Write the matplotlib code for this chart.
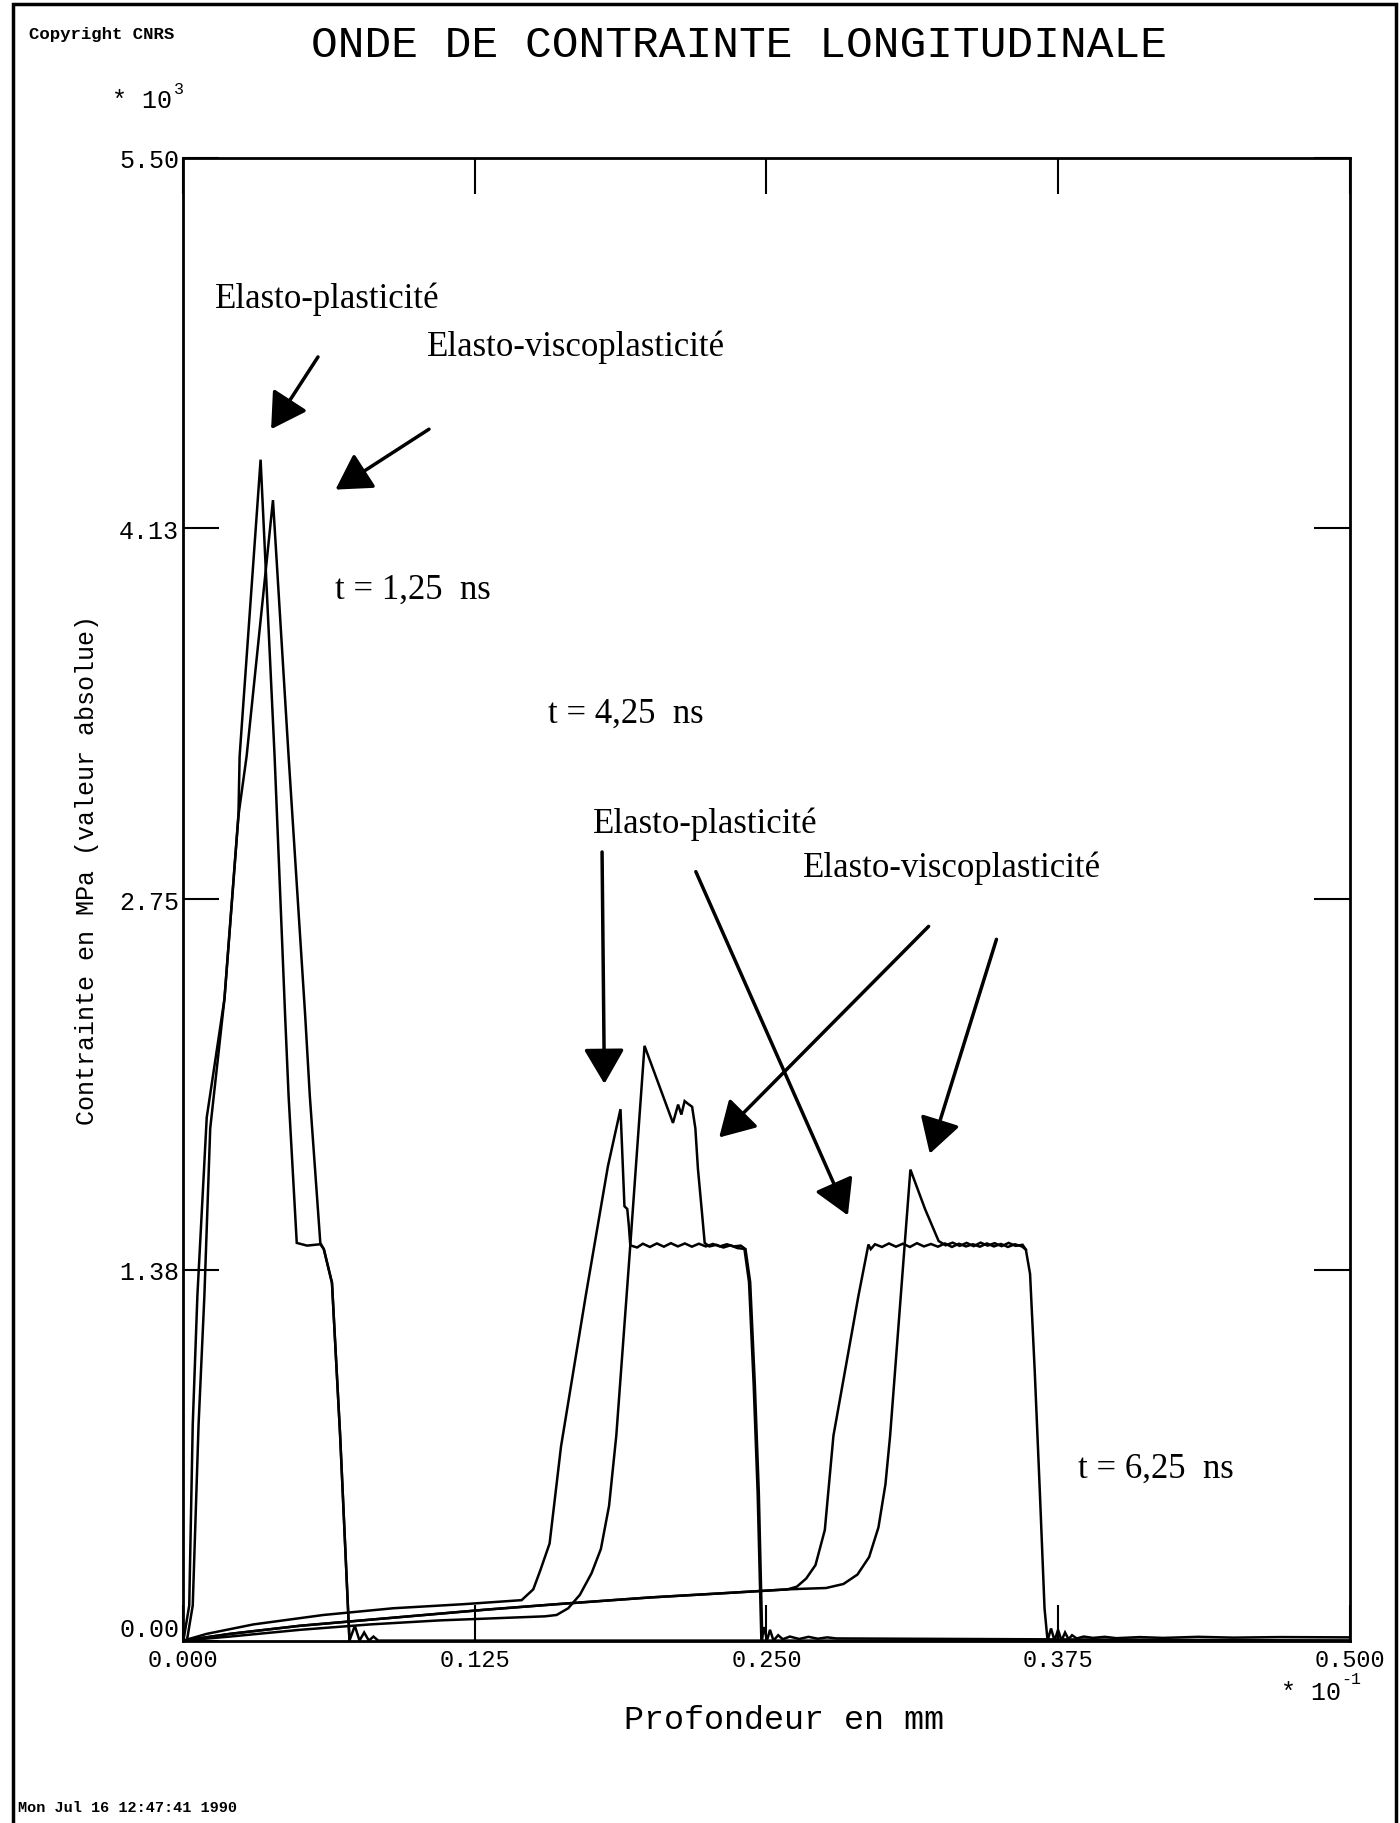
import matplotlib
matplotlib.use('Agg')
import matplotlib.pyplot as plt
from matplotlib.patches import Rectangle

# profondeur (x 10^-1 mm) / contrainte (x 10^3 MPa)

# t = 1,25 ns
ep1_x = [0.0, 0.0025, 0.004, 0.006, 0.010, 0.0176, 0.0236, 0.0241, 0.0331, 0.0391, 0.0436, 0.0451,
         0.0486, 0.0530, 0.0587, 0.0602, 0.0637, 0.0672, 0.0712, 0.0735, 0.0755, 0.0775, 0.0795,
         0.0815, 0.0835, 0.5]
ep1_y = [0.0, 0.13, 0.80, 1.28, 1.94, 2.38, 3.06, 3.28, 4.38, 3.28, 2.32, 2.02,
         1.475, 1.465, 1.470, 1.452, 1.327, 0.76, 0.0, 0.055, 0.0, 0.03, 0.0,
         0.015, 0.0, 0.0]
evp1_x = [0.0015, 0.004, 0.0065, 0.009, 0.0115, 0.0176, 0.0236, 0.0271, 0.0384, 0.0451, 0.0522,
          0.0542, 0.0587, 0.0602, 0.0637, 0.0672, 0.0712]
evp1_y = [0.0, 0.13, 0.80, 1.28, 1.90, 2.38, 3.06, 3.28, 4.23, 3.28, 2.32,
          2.02, 1.475, 1.452, 1.327, 0.76, 0.0]

# t = 4,25 ns
ep4_x = [0.0, 0.01, 0.03, 0.06, 0.09, 0.12, 0.145, 0.150, 0.153, 0.157, 0.1619, 0.1725, 0.182,
         0.1874, 0.1891, 0.1903, 0.191, 0.1916, 0.1945, 0.197, 0.200, 0.203, 0.206, 0.209, 0.212,
         0.215, 0.218, 0.221, 0.224, 0.227, 0.230, 0.233, 0.236, 0.239, 0.2405, 0.2425, 0.2445,
         0.2462, 0.2478, 0.249, 0.2502, 0.2515, 0.253, 0.255, 0.257, 0.260, 0.264, 0.268, 0.272,
         0.276, 0.280, 0.5]
ep4_y = [0.0, 0.025, 0.06, 0.095, 0.12, 0.135, 0.15, 0.19, 0.26, 0.36, 0.72, 1.279, 1.759,
         1.971, 1.611, 1.601, 1.537, 1.466, 1.458, 1.472, 1.460, 1.473, 1.461, 1.474, 1.462,
         1.473, 1.461, 1.472, 1.462, 1.471, 1.462, 1.470, 1.462, 1.465, 1.455, 1.33, 0.95,
         0.55, 0.0, 0.05, 0.0, 0.04, 0.0, 0.02, 0.005, 0.015, 0.006, 0.014, 0.007,
         0.012, 0.008, 0.0]
evp4_x = [0.0, 0.02, 0.05, 0.08, 0.11, 0.14, 0.155, 0.160, 0.165, 0.170, 0.175, 0.179, 0.1825,
          0.1856, 0.1916, 0.1977, 0.2099, 0.2121, 0.2135, 0.2149, 0.2165, 0.2181, 0.2195, 0.2206,
          0.2222, 0.2235, 0.2255, 0.2285, 0.2315, 0.2345, 0.2375, 0.2410, 0.243, 0.245, 0.2467,
          0.2482]
evp4_y = [0.0, 0.015, 0.04, 0.06, 0.075, 0.085, 0.09, 0.095, 0.12, 0.17, 0.25, 0.34, 0.50,
          0.76, 1.466, 2.206, 1.92, 1.988, 1.951, 2.001, 1.99, 1.98, 1.90, 1.75,
          1.60, 1.475, 1.462, 1.468, 1.458, 1.466, 1.456, 1.452, 1.33, 0.95, 0.55,
          0.0]

# t = 6,25 ns
ep6_x = [0.0, 0.02, 0.05, 0.09, 0.13, 0.16, 0.20, 0.23, 0.259, 0.263, 0.267, 0.271, 0.275, 0.2787,
         0.2894, 0.2937, 0.2947, 0.2965, 0.2995, 0.3025, 0.3055, 0.3085, 0.3115, 0.3145, 0.3175,
         0.3205, 0.3235, 0.3265, 0.3295, 0.3325, 0.3355, 0.3385, 0.3415, 0.3445, 0.3475, 0.3505,
         0.3535, 0.3565, 0.3595, 0.3612, 0.3630, 0.3650, 0.3672, 0.3692, 0.3705, 0.372, 0.3735,
         0.375, 0.3765, 0.378, 0.3795, 0.381, 0.383, 0.386, 0.390, 0.395, 0.400, 0.410, 0.420,
         0.435, 0.450, 0.470, 0.500]
ep6_y = [0.0, 0.025, 0.055, 0.085, 0.115, 0.135, 0.16, 0.175, 0.19, 0.20, 0.23, 0.28, 0.41, 0.76,
         1.278, 1.469, 1.452, 1.470, 1.460, 1.473, 1.461, 1.472, 1.460, 1.474, 1.462,
         1.471, 1.461, 1.473, 1.460, 1.472, 1.462, 1.470, 1.461, 1.473, 1.462, 1.471,
         1.460, 1.470, 1.462, 1.45, 1.36, 1.0, 0.55, 0.12, 0.0, 0.045, 0.0,
         0.04, 0.0, 0.03, 0.005, 0.02, 0.008, 0.015, 0.01, 0.014, 0.009, 0.013, 0.010,
         0.014, 0.011, 0.013, 0.012]
evp6_x = [0.0, 0.02, 0.05, 0.09, 0.13, 0.16, 0.20, 0.23, 0.259, 0.265, 0.2755, 0.283, 0.289,
          0.294, 0.298, 0.301, 0.303, 0.3117, 0.318, 0.3238, 0.3268, 0.3298, 0.3328, 0.3358,
          0.3388, 0.3418, 0.3448, 0.3478, 0.3508, 0.3538, 0.3568, 0.3598, 0.3612]
evp6_y = [0.0, 0.025, 0.055, 0.085, 0.115, 0.135, 0.16, 0.175, 0.19, 0.192, 0.195, 0.21, 0.245,
          0.31, 0.42, 0.58, 0.76, 1.747, 1.60, 1.482, 1.466, 1.476, 1.464, 1.475,
          1.463, 1.476, 1.465, 1.474, 1.463, 1.475, 1.464, 1.468, 1.45]

x_ticks = [0.0, 0.125, 0.25, 0.375, 0.5]
x_ticklabels = ['0.000', '0.125', '0.250', '0.375', '0.500']
y_ticks = [0.0, 1.375, 2.75, 4.125, 5.5]
y_ticklabels = ['0.00', '1.38', '2.75', '4.13', '5.50']

# textes (position x, y, texte)
notes = [(0.0135, 4.98, 'Elasto-plasticité'),
         (0.1043, 4.80, 'Elasto-viscoplasticité'),
         (0.0652, 3.90, 't = 1,25  ns'),
         (0.1565, 3.44, 't = 4,25  ns'),
         (0.1755, 3.03, 'Elasto-plasticité'),
         (0.2658, 2.87, 'Elasto-viscoplasticité'),
         (0.3837, 0.64, 't = 6,25  ns')]
# fleches (queue, pointe)
arrows = [((0.0577, 4.761), (0.0376, 4.493)),
          ((0.1053, 4.493), (0.0652, 4.269)),
          ((0.1795, 2.925), (0.1805, 2.065)),
          ((0.2197, 2.852), (0.2849, 1.577)),
          ((0.3195, 2.649), (0.2297, 1.866)),
          ((0.3486, 2.601), (0.3200, 1.806))]

mono = 'Liberation Mono'
serif = 'Liberation Serif'

fig = plt.figure(figsize=(14, 18.24), dpi=100)
ax = fig.add_axes([0.131, 0.100, 0.833, 0.813])

for xs, ys in [(ep1_x, ep1_y), (evp1_x, evp1_y), (ep4_x, ep4_y), (evp4_x, evp4_y),
               (ep6_x, ep6_y), (evp6_x, evp6_y)]:
    ax.plot(xs, ys, color='black', lw=1.8, solid_joinstyle='miter')

ax.set_xlim(0, 0.5)
ax.set_ylim(0, 5.5)
ax.set_xticks(x_ticks)
ax.set_xticklabels(x_ticklabels, fontfamily=mono, fontsize=17)
ax.set_yticks(y_ticks)
ax.set_yticklabels(y_ticklabels, fontfamily=mono, fontsize=18)
ax.tick_params(direction='in', length=26, width=1.5, top=True, right=True, pad=3)
ax.tick_params(axis='x', pad=5)
ax.get_yticklabels()[0].set_va('bottom')
for s in ax.spines.values():
    s.set_linewidth(2)

for x, y, txt in notes:
    ax.text(x, y, txt, fontfamily=serif, fontsize=25, va='center', ha='left')
for tail, head in arrows:
    ax.annotate('', xy=head, xytext=tail,
                arrowprops=dict(arrowstyle='-|>,head_length=1.2,head_width=0.7', lw=2.5,
                                color='black', mutation_scale=18, shrinkA=0, shrinkB=0))

fig.text(0.528, 0.975, 'ONDE DE CONTRAINTE LONGITUDINALE', fontfamily=mono, fontsize=32,
         ha='center', va='center')
fig.text(0.021, 0.981, 'Copyright CNRS', fontfamily=mono, fontsize=12.5, fontweight='bold',
         ha='left', va='center')
fig.text(0.080, 0.9445, '* 10', fontfamily=mono, fontsize=18, ha='left', va='center')
fig.text(0.124, 0.951, '3', fontfamily=mono, fontsize=12, ha='left', va='center')
fig.text(0.0625, 0.523, 'Contrainte en MPa (valeur absolue)', fontfamily=mono, fontsize=18,
         rotation=90, ha='center', va='center')
fig.text(0.56, 0.057, 'Profondeur en mm', fontfamily=mono, fontsize=24, ha='center', va='center')
fig.text(0.915, 0.072, '* 10', fontfamily=mono, fontsize=18, ha='left', va='center')
fig.text(0.958, 0.079, '-1', fontfamily=mono, fontsize=12, ha='left', va='center')
fig.text(0.013, 0.005, 'Mon Jul 16 12:47:41 1990', fontfamily=mono, fontsize=11,
         fontweight='bold', ha='left', va='bottom')

fig.add_artist(Rectangle((0.009, -0.01), 0.988, 1.007, transform=fig.transFigure,
                         fill=False, lw=2.5, color='black'))

plt.savefig('out.png', dpi=100)
